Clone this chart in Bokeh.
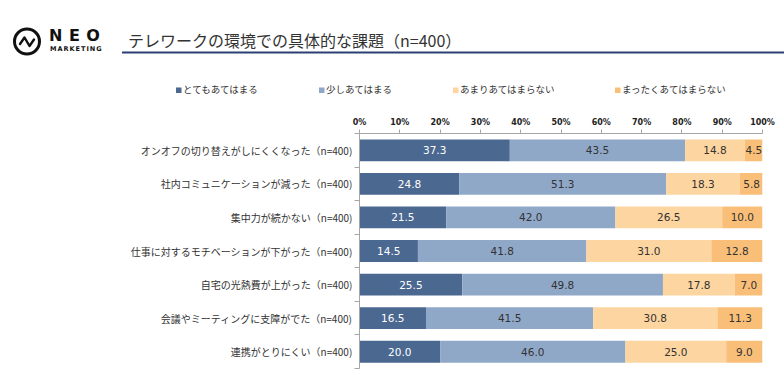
from bokeh.plotting import figure
from bokeh.models import Range1d, FixedTicker, ColumnDataSource, CustomJSTickFormatter, Div
from bokeh.layouts import column
from bokeh.core.properties import value
from bokeh.embed import file_html
from bokeh.resources import INLINE

categories = [
    "オンオフの切り替えがしにくくなった（n=400)",
    "社内コミュニケーションが減った（n=400)",
    "集中力が続かない（n=400)",
    "仕事に対するモチベーションが下がった（n=400)",
    "自宅の光熱費が上がった（n=400)",
    "会議やミーティングに支障がでた（n=400)",
    "連携がとりにくい（n=400)",
]
series_names = ["とてもあてはまる", "少しあてはまる", "あまりあてはまらない", "まったくあてはまらない"]
very = [37.3, 24.8, 21.5, 14.5, 25.5, 16.5, 20.0]
somewhat = [43.5, 51.3, 42.0, 41.8, 49.8, 41.5, 46.0]
not_much = [14.8, 18.3, 26.5, 31.0, 17.8, 30.8, 25.0]
not_at_all = [4.5, 5.8, 10.0, 12.8, 7.0, 11.3, 9.0]
x_ticks = [0, 10, 20, 30, 40, 50, 60, 70, 80, 90, 100]
title_text = "テレワークの環境での具体的な課題（n=400）"

colors = ["#4b6891", "#90a8c8", "#fdd5a0", "#f9bf78"]
label_colors = ["#ffffff", "#333333", "#333333", "#333333"]
JP = "Noto Sans CJK JP"

W = 784
HEAD_H = 100
CHART_H = 277

# ---------- header (HTML) ----------
leg_x = [176, 319, 453, 615]


def span(text, left, center_y, size, family, weight="normal", color="#333333", extra=""):
    lh = size * 1.4
    return (f'<span style="position:absolute;left:{left}px;top:{center_y - lh / 2}px;'
            f'line-height:{lh}px;font-size:{size}px;font-family:\'{family}\';'
            f'font-weight:{weight};color:{color};white-space:nowrap;{extra}">{text}</span>')


svg_parts = [
    '<circle cx="27" cy="41.5" r="12.5" fill="none" stroke="#111111" stroke-width="3"/>',
    '<polyline points="20,44 24.5,37.5 29.5,46 34,39.5" fill="none" stroke="#111111" '
    'stroke-width="2.4" stroke-linejoin="round" stroke-linecap="round"/>',
    '<rect x="122" y="51.5" width="662" height="2" fill="#2c3f73"/>',
]
for i, lx in enumerate(leg_x):
    svg_parts.append(f'<rect x="{lx}" y="87.5" width="5.5" height="5.5" fill="{colors[i]}"/>')

html = [f'<div style="position:relative;width:{W}px;height:{HEAD_H}px;overflow:hidden;'
        f'margin:0;padding:0;">',
        f'<svg style="position:absolute;left:0;top:0" width="{W}" height="{HEAD_H}">'
        + "".join(svg_parts) + '</svg>',
        span("NEO", 49, 36, 16, "DejaVu Sans", "bold", "#111111", "letter-spacing:6.5px;"),
        span("MARKETING", 50, 50, 6.5, "DejaVu Sans", "bold", "#111111", "letter-spacing:1px;"),
        span(title_text, 128, 40, 16, JP, "normal", "#333333")]
for i, lx in enumerate(leg_x):
    html.append(span(series_names[i], lx + 7, 90, 9.5, JP, "normal", "#333333"))
html.append('</div>')

header = Div(text="".join(html), width=W, height=HEAD_H, margin=0)

# ---------- chart ----------
n = len(categories)
ys = list(range(1, n + 1))
p = figure(width=W, height=CHART_H, x_range=Range1d(0, 100), y_range=Range1d(n + 0.5, 0.5),
           x_axis_location="above", output_backend="svg", toolbar_location=None,
           min_border_left=359, min_border_right=22, min_border_top=33, min_border_bottom=9)
p.grid.visible = False
p.outline_line_color = None
p.margin = 0

series = [very, somewhat, not_much, not_at_all]
left = [0.0] * n
for i, vals in enumerate(series):
    right = [l + v for l, v in zip(left, vals)]
    src = ColumnDataSource(dict(y=ys, left=left, right=right,
                                mid=[(l + r) / 2 for l, r in zip(left, right)],
                                lab=[f"{v:.1f}" for v in vals]))
    p.hbar(y="y", left="left", right="right", height=0.65, source=src,
           fill_color=colors[i], line_color=None)
    p.text(x="mid", y="y", text="lab", source=src, text_align="center", text_baseline="middle",
           text_font=value("DejaVu Sans"), text_font_size="10.5px", text_color=label_colors[i])
    left = right

# x axis (top)
xa = p.xaxis[0]
xa.ticker = FixedTicker(ticks=x_ticks)
xa.formatter = CustomJSTickFormatter(code="return tick + '%';")
xa.axis_line_color = "#a6a6a6"
xa.major_tick_line_color = "#a6a6a6"
xa.major_tick_out = 4
xa.major_tick_in = 0
xa.minor_tick_line_color = None
xa.major_label_text_font = "DejaVu Sans"
xa.major_label_text_font_style = "bold"
xa.major_label_text_font_size = "8px"
xa.major_label_text_color = "#222222"
xa.major_label_standoff = 3

# y axis (left)
ya = p.yaxis[0]
ya.ticker = FixedTicker(ticks=ys, minor_ticks=[k + 0.5 for k in range(0, n + 1)])
ya.major_label_overrides = {y: c for y, c in zip(ys, categories)}
ya.axis_line_color = "#a6a6a6"
ya.major_tick_line_color = None
ya.minor_tick_line_color = "#a6a6a6"
ya.minor_tick_out = 5
ya.minor_tick_in = 0
ya.major_tick_out = 0
ya.major_tick_in = 0
ya.major_label_text_font = JP
ya.major_label_text_font_size = "10px"
ya.major_label_text_color = "#333333"
ya.major_label_standoff = 2

layout = column(header, p, spacing=0)
open("out.html", "w").write(file_html(layout, INLINE))
